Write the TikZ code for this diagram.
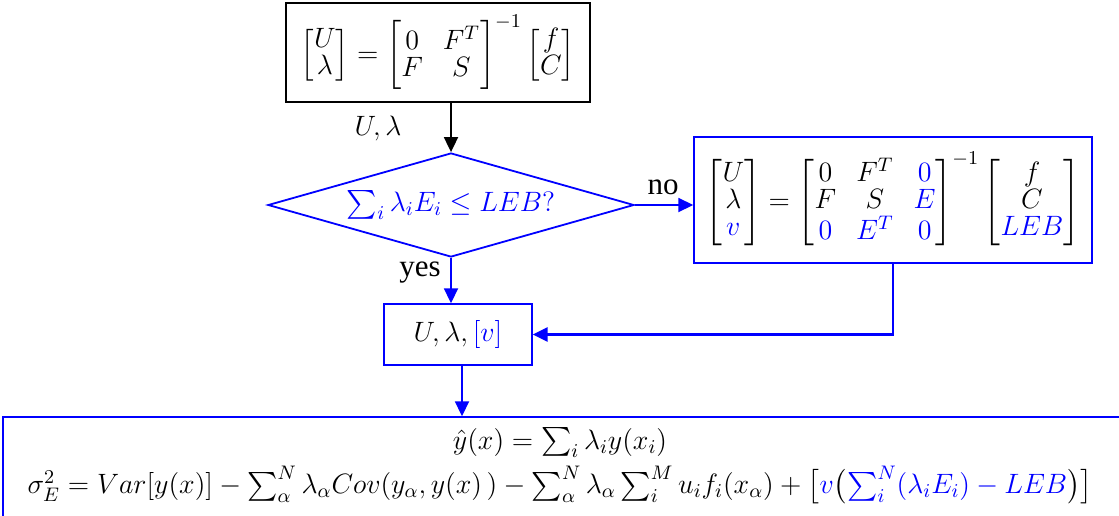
\RequirePackage{fix-cm}
\documentclass[tikz,border=0pt]{standalone}
\usepackage{amsmath}
\usepackage{fontspec}
\newfontfamily\timesfont{Liberation Serif}
\usetikzlibrary{shapes.geometric,arrows.meta}
\definecolor{fblue}{RGB}{0,0,255}
\begin{document}
\begin{tikzpicture}[x=0.5pt,y=-0.5pt,
  mathfont/.style={font=\fontsize{14}{17}\selectfont\def\arraystretch{0.78}},
  bbox/.style={draw=black, rectangle, inner sep=0pt, line width=0.7pt, mathfont},
  bluebox/.style={draw=fblue, rectangle, inner sep=0pt, line width=0.7pt, mathfont},
  decision/.style={draw=fblue, diamond, aspect=3.5, inner sep=0pt, line width=0.9pt, mathfont, text=fblue},
  arr/.style={-{Triangle[length=7.5pt,width=7pt]}, line width=0.9pt},
  blk/.style={arr, draw=black},
  blu/.style={arr, draw=fblue},
  lbl/.style={font=\timesfont\fontsize{15.5}{18}\selectfont, inner sep=0pt},
  mlbl/.style={mathfont, inner sep=0pt}
]
\useasboundingbox (0,0) rectangle (1119,515);
\clip (0,0) rectangle (1119,515);

\node[bbox, minimum width=152pt, minimum height=49.5pt] (top) at (438,52.5)
  {$\begin{bmatrix} U\\ \lambda\end{bmatrix} = \begin{bmatrix} 0 & F^T\\ F & S\end{bmatrix}^{-1}\begin{bmatrix} f\\ C\end{bmatrix}$};

\node[decision, minimum width=183pt, minimum height=52pt] (dia) at (451,205)
  {$\sum_i \lambda_i E_i \le LEB?$};

\node[bluebox, minimum width=199pt, minimum height=63pt] (rbox) at (893,200)
  {$\begin{bmatrix} U\\ \lambda\\ \color{fblue}v\end{bmatrix} = \begin{bmatrix} 0 & F^T & \color{fblue}0\\ F & S & \color{fblue}E\\ \color{fblue}0 & \color{fblue}E^T & \color{fblue}0\end{bmatrix}^{-1}\begin{bmatrix} f\\ C\\ \color{fblue}LEB\end{bmatrix}$};

\node[bluebox, minimum width=74pt, minimum height=30.5pt] (small) at (458,334.5)
  {$U, \lambda, {\color{fblue}[v]}$};

\node[bluebox, minimum width=566pt, minimum height=60pt] (bot) at (569,477) {};
\node[mathfont, align=center, inner sep=0pt] (bottext) at (560,466)
  {$\hat{y}(x) = \sum_i \lambda_i y(x_i)$\\[3pt]
   $\sigma_E^2 = Var[y(x)] - \sum_\alpha^N \lambda_\alpha Cov(y_\alpha, y(x)\,) - \sum_\alpha^N \lambda_\alpha \sum_i^M u_i f_i(x_\alpha) + \big[{\color{fblue}v}\big({\color{fblue}\sum_i^N(\lambda_i E_i) - LEB}\big)\big]$};

\draw[blk] (top.south -| dia.north) -- (dia.north);
\node[mlbl] (ul) at (378,128) {$U, \lambda$};

\draw[blu] (dia.east) -- (dia.east -| rbox.west);
\node[lbl] (no) at (663,187) {no};

\draw[blu] (dia.south) -- (dia.south |- small.north);
\node[lbl] (yes) at (420,273) {yes};

\draw[blu, line width=1.4pt] (rbox.south) |- (small.east);

\draw[blu] (small.south -| 462,0) -- (bot.north -| 462,0);
\end{tikzpicture}
\end{document}
